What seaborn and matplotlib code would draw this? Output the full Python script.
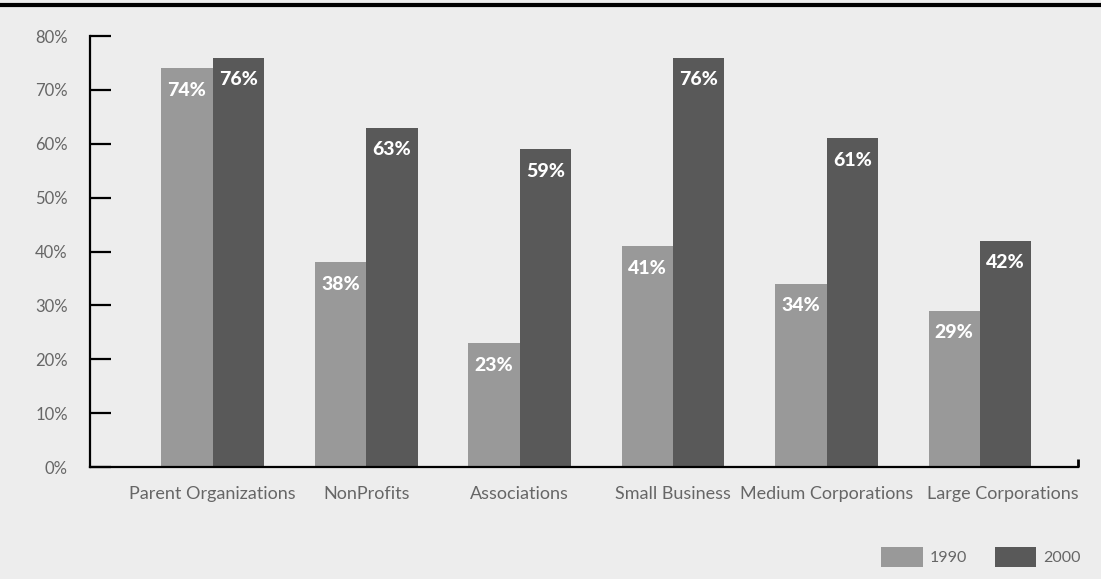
import matplotlib
matplotlib.use("Agg")
import matplotlib.pyplot as plt
from matplotlib.lines import Line2D
from matplotlib.patches import Patch
import matplotlib.transforms as mtransforms
import seaborn as sns
import pandas as pd

# data
categories = ["Parent Organizations", "NonProfits", "Associations",
              "Small Business", "Medium Corporations", "Large Corporations"]
years = ["1990", "2000"]
values_1990 = [74, 38, 23, 41, 34, 29]
values_2000 = [76, 63, 59, 76, 61, 42]
yticks = [0, 10, 20, 30, 40, 50, 60, 70, 80]

colors = {"1990": "#999999", "2000": "#595959"}
bg = "#ededed"
txt = "#666666"

df = pd.DataFrame({
    "category": categories * 2,
    "year": [years[0]] * len(categories) + [years[1]] * len(categories),
    "value": values_1990 + values_2000,
})

sns.set_style("white")
plt.rcParams["font.family"] = ["Lato", "DejaVu Sans"]

fig = plt.figure(figsize=(11.01, 5.79), dpi=100, facecolor=bg)
ax = fig.add_axes([0.0817, 0.1934, 0.9793 - 0.0817, 0.9378 - 0.1934])
ax.set_facecolor(bg)

sns.barplot(data=df, x="category", y="value", hue="year", order=categories,
            hue_order=years, palette=colors, width=0.67, saturation=1,
            linewidth=0, legend=False, ax=ax)

for cont in ax.containers:
    ax.bar_label(cont, fmt="{:.0f}%", padding=-22, color="white",
                 fontsize=14, fontweight="black")

xmax = 5.64
ax.set_xlim(-0.80, xmax)
ax.set_ylim(0, 80)
ax.set_yticks(yticks)
ax.set_yticklabels([f"{t}%" for t in yticks])
ax.set_xlabel("")
ax.set_ylabel("")

for s in ["top", "right"]:
    ax.spines[s].set_visible(False)
for s in ["left", "bottom"]:
    ax.spines[s].set_linewidth(1.6)
    ax.spines[s].set_color("black")

ax.tick_params(axis="y", left=True, direction="in", length=15, width=1.6,
               color="black", pad=16, labelsize=12, labelcolor=txt)
ax.tick_params(axis="x", which="major", bottom=False, length=0, pad=14,
               labelsize=13, labelcolor=txt)
ax.set_xticks([xmax], minor=True)
ax.tick_params(axis="x", which="minor", bottom=True, direction="in", length=6,
               width=2, color="black")

# last category label sits nudged right so it doesn't collide with its neighbour
last = ax.get_xticklabels()[-1]
last.set_transform(last.get_transform() +
                   mtransforms.ScaledTranslation(0.23, 0, fig.dpi_scale_trans))

# thick rule across the top of the figure
fig.add_artist(Line2D([0, 1], [0.9915, 0.9915], transform=fig.transFigure,
                      color="black", lw=3))

handles = [Patch(facecolor=colors[y], edgecolor="none", label=y) for y in years]
fig.legend(handles=handles, loc="center right", bbox_to_anchor=(0.989, 0.038),
           ncol=2, frameon=False, fontsize=11.5, labelcolor=txt,
           handlelength=2.6, handleheight=1.6, columnspacing=1.7,
           handletextpad=0.45, borderpad=0)

fig.savefig("out.png", dpi=100, facecolor=bg)
